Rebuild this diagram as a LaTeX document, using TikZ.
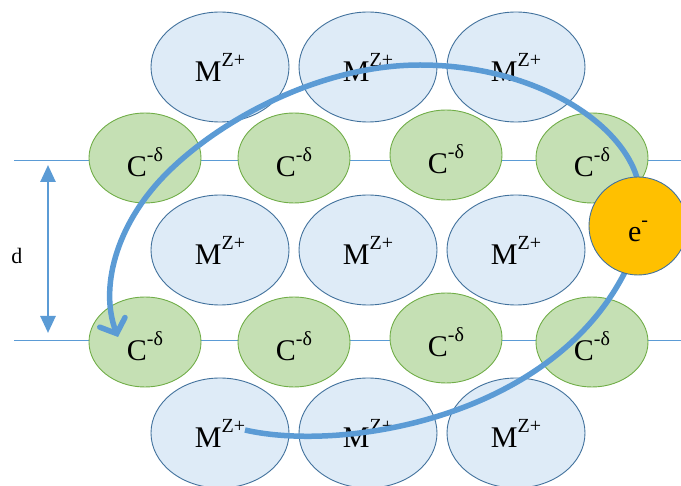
\documentclass[tikz,border=0pt]{standalone}
\usepackage{fontspec}
\setmainfont{Liberation Serif}
\usetikzlibrary{shapes.geometric,arrows.meta}
\definecolor{mfill}{HTML}{DEEBF7}
\definecolor{mdraw}{HTML}{41719C}
\definecolor{cfill}{HTML}{C5E0B4}
\definecolor{cdraw}{HTML}{70AD47}
\definecolor{efill}{HTML}{FFC000}
\definecolor{lblue}{HTML}{5B9BD5}
\newcommand\supr[1]{\raisebox{15.5pt}{\fontsize{20}{20}\selectfont #1}}
\tikzset{
  mion/.style={ellipse, draw=mdraw, fill=mfill, line width=0.9pt, minimum width=138pt, minimum height=110pt, inner sep=0pt},
  cion/.style={ellipse, draw=cdraw, fill=cfill, line width=0.9pt, minimum width=112pt, minimum height=90pt, inner sep=0pt},
  eion/.style={circle, draw=mdraw, fill=efill, line width=0.9pt, minimum size=98pt, inner sep=0pt},
  iontext/.style={anchor=base, inner sep=0pt, font=\fontsize{30}{30}\selectfont},
  guide/.style={draw=lblue, line width=0.8pt},
  dim/.style={draw=lblue, line width=2.6pt, {Triangle[length=17pt,width=15pt]}-{Triangle[length=17pt,width=15pt]}},
  path/.style={draw=lblue, line width=5.5pt, -{Straight Barb[length=12pt,width=27pt,line cap=round]}}
}
\begin{document}
\begin{tikzpicture}[x=1pt,y=-1pt]
\useasboundingbox (0,0) rectangle (681,486);
% guide lines
\coordinate (la) at (14,160);
\coordinate (lb) at (681,160);
\coordinate (lc) at (14,340);
\coordinate (ld) at (681,340);
\draw[guide] (la) -- (lb);
\draw[guide] (lc) -- (ld);
% dimension arrow
\coordinate (dtop) at (48,165);
\coordinate (dbot) at (48,333);
\draw[dim] (dtop) -- (dbot);
\node[font=\fontsize{22}{22}\selectfont, inner sep=0pt] (dlab) at (17,256) {d};
% M ions
\foreach \n/\x/\y in {a/220/67, b/368/67, c/516/67, d/220/250, e/368/250, f/516/250, g/220/433, h/368/433, i/516/433} {
  \node[mion] (m\n) at (\x,\y) {};
  \node[iontext] (mt\n) at ([yshift=-15pt]m\n.center) {M\supr{Z+}};
}
% C ions
\foreach \n/\x/\y in {a/145/158, b/294/158, c/446/155, d/592/158, e/145/342, f/294/342, g/446/338, h/592/342} {
  \node[cion] (c\n) at (\x,\y) {};
  \node[iontext] (ct\n) at ([yshift=-19pt]c\n.center) {C\supr{-δ}};
}
% electron path
\coordinate (pstart) at (245,430);
\coordinate (p1) at (625,272);
\coordinate (p2) at (632,165);
\coordinate (p3) at (420,65);
\coordinate (p4) at (167,173);
\coordinate (pend) at (118,337);
\draw[path] (pstart) .. controls (340,452) and (550,420) .. (p1)
  .. controls (645,235) and (645.5,192.5) .. (p2)
  .. controls (605,110) and (520,65) .. (p3)
  .. controls (320,65) and (220,120) .. (p4)
  .. controls (114,226) and (100,290) .. (pend);
% electron
\node[eion] (el) at (638,226) {};
\node[iontext] (elt) at ([yshift=-16pt]el.center) {e\supr{-}};
\end{tikzpicture}
\end{document}
